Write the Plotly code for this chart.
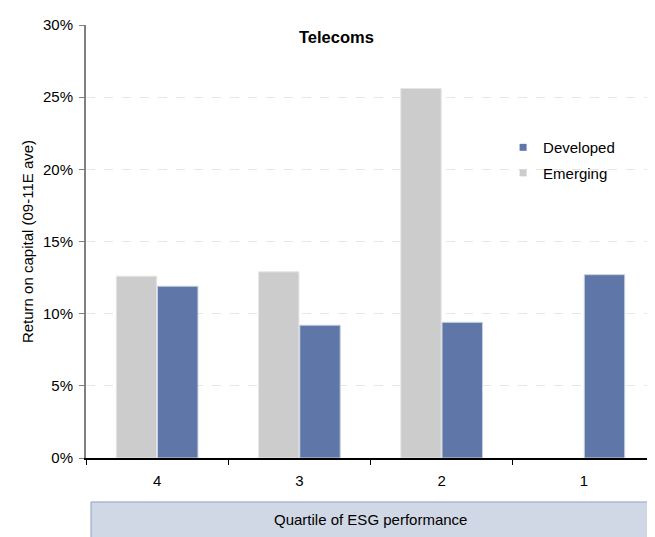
import plotly.graph_objects as go

quartiles = ["4", "3", "2", "1"]
emerging = [12.6, 12.9, 25.6, None]
developed = [11.9, 9.2, 9.4, 12.7]

EMERGING_COLOR = "#cccccc"
DEVELOPED_COLOR = "#5e76a8"

fig = go.Figure()
fig.add_trace(go.Bar(x=quartiles, y=emerging, name="Emerging", showlegend=False,
                     marker=dict(color=EMERGING_COLOR, line=dict(color="#e6e6e6", width=1))))
fig.add_trace(go.Bar(x=quartiles, y=developed, name="Developed", showlegend=False,
                     marker=dict(color=DEVELOPED_COLOR, line=dict(color="#c8d0e0", width=1))))

# small square legend keys, like the original
fig.add_trace(go.Scatter(x=[None], y=[None], mode="markers", name="Developed", legendgroup="d",
                         marker=dict(symbol="square", size=7, color=DEVELOPED_COLOR)))
fig.add_trace(go.Scatter(x=[None], y=[None], mode="markers", name="Emerging", legendgroup="e",
                         marker=dict(symbol="square", size=7, color=EMERGING_COLOR)))

fig.update_layout(
    width=647, height=529,
    margin=dict(l=78, r=0, t=17, b=79),
    paper_bgcolor="white", plot_bgcolor="white",
    font=dict(family="Liberation Sans, Arial, sans-serif", size=15, color="#000000"),
    barmode="group", bargap=0.42, bargroupgap=0.02,
    showlegend=True,
    legend=dict(x=0.733, y=0.755, xanchor="left", yanchor="top", traceorder="grouped",
                bgcolor="rgba(0,0,0,0)", font=dict(size=15), tracegroupgap=3),
    annotations=[
        dict(text="<b>Telecoms</b>", x=0.441, y=0.972, xref="paper", yref="paper",
             xanchor="center", yanchor="middle", showarrow=False, font=dict(size=16.5)),
        dict(text="Quartile of ESG performance", x=0.5, y=-0.143, xref="paper", yref="paper",
             xanchor="center", yanchor="middle", showarrow=False, font=dict(size=15)),
    ],
    shapes=[
        dict(type="rect", xref="paper", yref="paper", x0=0.0088, x1=0.993, y0=-0.2, y1=-0.1016,
             fillcolor="#d0d8e6", line=dict(color="#8da0c8", width=1), layer="below"),
    ],
)

fig.update_xaxes(
    type="category", showline=True, linecolor="#000000", linewidth=1.5,
    ticks="outside", tickson="boundaries", ticklen=5, tickcolor="#000000",
    showgrid=False, tickfont=dict(size=15), automargin=False, ticklabelstandoff=8,
)
fig.update_yaxes(
    range=[0, 30], dtick=5, ticksuffix="%",
    showline=True, linecolor="#808080", linewidth=2,
    ticks="outside", ticklen=5, tickcolor="#808080",
    showgrid=True, gridcolor="#e6e6e6", griddash="dash", gridwidth=1,
    zeroline=False, tickfont=dict(size=15), automargin=False, ticklabelstandoff=3,
    title=dict(text="Return on capital (09-11E ave)", font=dict(size=15), standoff=6),
)

fig.write_html("out.html")
